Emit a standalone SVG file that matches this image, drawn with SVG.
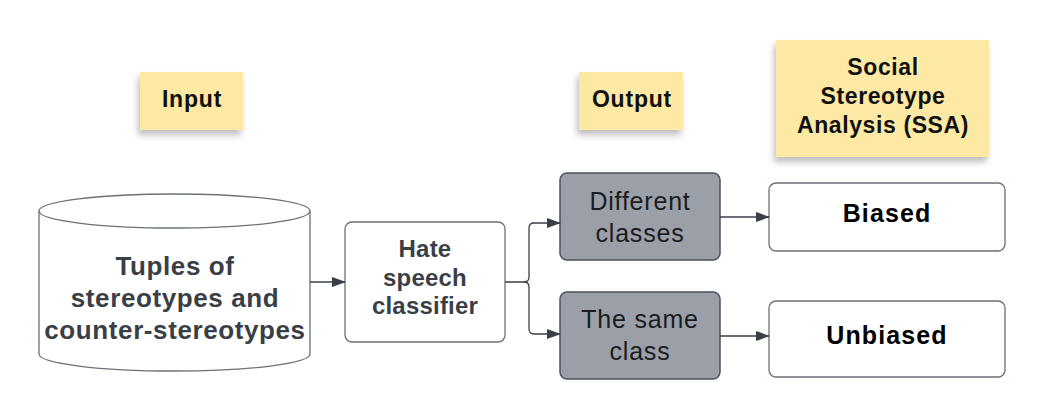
<svg xmlns="http://www.w3.org/2000/svg" width="1050" height="420" viewBox="0 0 1050 420">
<style>
.sticky{fill:#fde9a4;filter:url(#sh)}
.st{font-family:"Liberation Sans",Arial,sans-serif;font-weight:bold;font-size:23px;letter-spacing:0.8px;fill:#111;text-anchor:middle}
.box{fill:#fff;stroke:#6b7079;stroke-width:1.3}
.gbox{fill:#9a9fa8;stroke:#4d525b;stroke-width:1.5}
.bt{font-family:"Liberation Sans",Arial,sans-serif;font-weight:bold;font-size:24px;letter-spacing:0.2px;fill:#3a3f47;text-anchor:middle}
.cy{font-size:26px;letter-spacing:0.6px}
.rt{font-family:"Liberation Sans",Arial,sans-serif;font-size:25px;letter-spacing:0.8px;fill:#1a1c20;text-anchor:middle}
.kt{font-family:"Liberation Sans",Arial,sans-serif;font-weight:bold;font-size:25px;letter-spacing:1.1px;fill:#000;text-anchor:middle}
.ln{fill:none;stroke:#3a3f47;stroke-width:1.3}
</style>
<defs>
<filter id="sh" x="-20%" y="-20%" width="140%" height="160%">
<feDropShadow dx="-2" dy="5" stdDeviation="3" flood-color="#000" flood-opacity="0.25"/>
</filter>
<marker id="ar" markerWidth="14" markerHeight="10" refX="13" refY="5" orient="auto" markerUnits="userSpaceOnUse">
<path d="M0,0 L14,5 L0,10 Z" fill="#3a3f47"/>
</marker>
</defs>
<rect width="1050" height="420" fill="#fff"/>
<g id="note-input">
<rect class="sticky" x="140" y="72" width="103" height="58"/>
<text class="st" x="192" y="107">Input</text>
</g>
<g id="note-output">
<rect class="sticky" x="579" y="72" width="104" height="58"/>
<text class="st" x="632" y="107">Output</text>
</g>
<g id="note-ssa">
<rect class="sticky" x="776" y="40" width="213" height="117"/>
<text class="st" x="883" y="75" style="letter-spacing:0.6px">Social</text>
<text class="st" x="883" y="104" style="letter-spacing:0.6px">Stereotype</text>
<text class="st" x="883" y="133" style="letter-spacing:0.6px">Analysis (SSA)</text>
</g>
<g id="cylinder">
<path class="box" d="M39,211 L39,354 A135.5,17 0 0 0 310,354 L310,211"/>
<ellipse class="box" cx="174.5" cy="211" rx="135.5" ry="17"/>
<text class="bt cy" x="175" y="275">Tuples of</text>
<text class="bt cy" x="175" y="307">stereotypes and</text>
<text class="bt cy" x="175" y="339">counter-stereotypes</text>
</g>
<g id="classifier">
<rect class="box" x="345" y="222" width="160" height="120" rx="7"/>
<text class="bt" x="425" y="257">Hate</text>
<text class="bt" x="425" y="286">speech</text>
<text class="bt" x="425" y="314">classifier</text>
</g>
<g id="different">
<rect class="gbox" x="560" y="173" width="160" height="87" rx="7"/>
<text class="rt" x="640" y="210">Different</text>
<text class="rt" x="640" y="242">classes</text>
</g>
<g id="same">
<rect class="gbox" x="560" y="292" width="160" height="87" rx="7"/>
<text class="rt" x="640" y="328">The same</text>
<text class="rt" x="640" y="360">class</text>
</g>
<g id="biased">
<rect class="box" x="769" y="183" width="236" height="68" rx="7"/>
<text class="kt" x="887" y="222">Biased</text>
</g>
<g id="unbiased">
<rect class="box" x="769" y="301" width="236" height="76" rx="7"/>
<text class="kt" x="887" y="344">Unbiased</text>
</g>
<g id="connectors">
<path class="ln" d="M310,282 L345,282" marker-end="url(#ar)"/>
<path class="ln" d="M505,282 L524,282 Q529,282 529,277 L529,228 Q529,223 534,223 L560,223" marker-end="url(#ar)"/>
<path class="ln" d="M524,282 Q529,282 529,287 L529,329 Q529,334 534,334 L560,334" marker-end="url(#ar)"/>
<path class="ln" d="M720,217 L769,217" marker-end="url(#ar)"/>
<path class="ln" d="M720,336 L769,336" marker-end="url(#ar)"/>
</g>
</svg>
